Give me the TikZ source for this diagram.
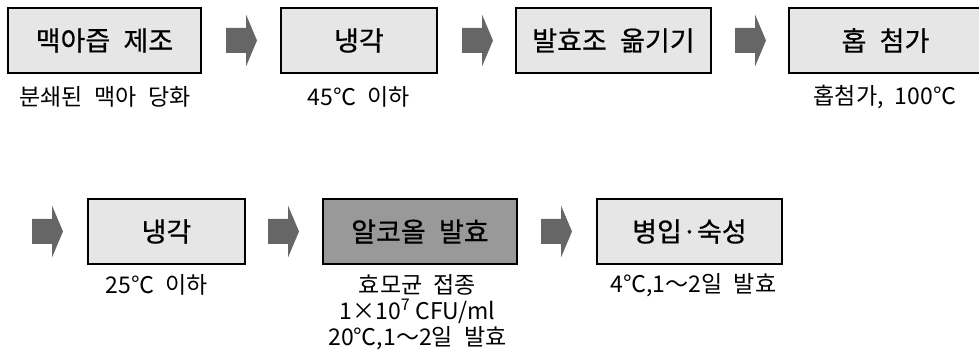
\documentclass[tikz,border=0pt]{standalone}
\usepackage{fontspec}
\setmainfont[WordSpace=2.2]{Noto Sans CJK KR}
\newfontfamily\boxfont[FakeBold=0.6,WordSpace=2.2]{Noto Sans CJK KR}
\definecolor{boxgray}{HTML}{E6E6E6}
\definecolor{darkbox}{HTML}{999999}
\definecolor{arrowgray}{HTML}{666666}
\begin{document}
\begin{tikzpicture}[x=1pt,y=-1pt,
  stepbox/.style={draw=black, line width=1.2pt, fill=boxgray, minimum height=65pt, inner sep=0pt,
    font=\boxfont\fontsize{27}{30}\selectfont},
  darkstep/.style={stepbox, fill=darkbox},
  steplabel/.style={inner sep=0pt, align=center, font=\fontsize{23}{27}\selectfont},
  blockarr/.pic={\fill[arrowgray] (0,-12.5) -- (20,-12.5) -- (20,-26) -- (31,0) -- (20,26) -- (20,12.5) -- (0,12.5) -- cycle;}
]
\useasboundingbox (0,0) rectangle (979,355);
% row 1
\node[stepbox, minimum width=193pt] (b1) at (104.5,40.5) {맥아즙 제조};
\node[stepbox, minimum width=156pt] (b2) at (359,40.5) {냉각};
\node[stepbox, minimum width=195pt] (b3) at (613.5,40.5) {발효조 옮기기};
\node[stepbox, minimum width=193pt] (b4) at (885.5,40.5) {홉 첨가};
\pic (a1) at (226,40.5) {blockarr};
\pic (a2) at (462,40.5) {blockarr};
\pic (a3) at (735,40.5) {blockarr};
\node[steplabel] (l1) at (105,97) {분쇄된 맥아 당화};
\node[steplabel] (l2) at (359,97) {45℃ 이하};
\node[steplabel] (l4) at (885,97) {홉첨가, 100℃};
% row 2
\node[stepbox, minimum width=157pt] (c1) at (166.5,231.5) {냉각};
\node[darkstep, minimum width=194pt] (c2) at (420,231.5) {알코올 발효};
\node[stepbox, minimum width=185pt] (c3) at (689.5,231.5) {병입·숙성};
\pic (d1) at (32,231.5) {blockarr};
\pic (d2) at (268,231.5) {blockarr};
\pic (d3) at (541,231.5) {blockarr};
\node[steplabel] (m1) at (157,285) {25℃ 이하};
\node[steplabel] (m2a) at (417.5,285) {효모균 접종};
\node[steplabel] (m2b) at (417.5,311) {1×10\textsuperscript{7}\kern5pt CFU/ml};
\node[steplabel] (m2c) at (417.5,338) {20℃,1～2일 발효};
\node[steplabel] (m3) at (693.5,285) {4℃,1～2일 발효};
\end{tikzpicture}
\end{document}
